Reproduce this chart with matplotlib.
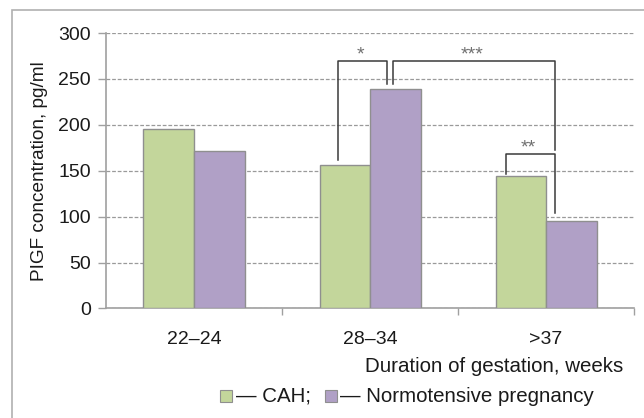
import matplotlib
matplotlib.use("Agg")
import matplotlib.pyplot as plt
from matplotlib.patches import Rectangle

plt.rcParams['font.family'] = ['Liberation Sans', 'DejaVu Sans']

categories = ["22–24", "28–34", ">37"]
cah = [196, 156, 144]
normotensive = [172, 239, 95]
series_labels = ["CAH", "Normotensive pregnancy"]
y_ticks = [0, 50, 100, 150, 200, 250, 300]

green = "#c3d69b"
purple = "#b0a0c6"
edge = "#8f8f8f"
axis_gray = "#a0a0a0"
text_col = "#1a1a1a"
fs = 14
fs_wide = 14.8

fig = plt.figure(figsize=(6.44, 4.18), dpi=100)
ax = fig.add_axes([0.1646, 0.262, 0.82, 0.659])

# outer frame of the figure
fig.patches.append(Rectangle((12 / 644, -0.05), 1.0, (418 - 10) / 418 + 0.05,
                             transform=fig.transFigure, fill=False,
                             edgecolor="#b0b0b0", linewidth=1.2))

x = list(range(len(categories)))
w = 0.287
ax.bar([i - w / 2 for i in x], cah, width=w, color=green, edgecolor=edge, linewidth=1.0, zorder=3)
ax.bar([i + w / 2 for i in x], normotensive, width=w, color=purple, edgecolor=edge, linewidth=1.0, zorder=3)

ax.set_xlim(-0.5, 2.5)
ax.set_ylim(0, 300)
ax.set_yticks(y_ticks)
ax.set_yticklabels([str(t) for t in y_ticks], fontsize=fs, color=text_col)
ax.yaxis.grid(True, linestyle=(0, (3, 1.5)), color="#9a9a9a", linewidth=0.9, zorder=0)
ax.set_axisbelow(True)

# category labels centred, tick marks at group boundaries
ax.set_xticks(x)
ax.set_xticklabels(categories, fontsize=fs, color=text_col)
ax.tick_params(axis='x', length=0, pad=16)
ax.set_xticks([0.5, 1.5, 2.5], minor=True)
ax.tick_params(axis='x', which='minor', length=5, color=axis_gray, width=1)
ax.tick_params(axis='y', length=6, color=axis_gray, width=1, pad=5)

for s in ["top", "right"]:
    ax.spines[s].set_visible(False)
for s in ["left", "bottom"]:
    ax.spines[s].set_color(axis_gray)
    ax.spines[s].set_linewidth(1.2)

ax.set_ylabel("PIGF concentration, pg/ml", fontsize=13.7, color=text_col, labelpad=7)
fig.text(623 / 644, 1 - 367 / 418, "Duration of gestation, weeks", fontsize=fs_wide,
         ha="right", va="center", color=text_col)

# significance brackets
br = dict(color="#3a3a3a", linewidth=1.1, clip_on=False, zorder=5)
star = dict(ha="center", va="center", fontsize=14, color="#707070", clip_on=False)

ax.plot([0.82, 0.82, 1.096, 1.096], [162, 269, 269, 245], **br)
ax.text(0.945, 276, "*", **star)
ax.plot([1.128, 1.128, 2.048, 2.048], [245, 269, 269, 173], **br)
ax.text(1.58, 276, "***", **star)
ax.plot([1.775, 1.775, 2.048, 2.048], [146, 168, 168, 104], **br)
ax.text(1.9, 175, "**", **star)

# legend line under the axis title
ly = 1 - 396 / 418
def swatch(xf, color):
    fig.patches.append(Rectangle((xf, ly - 0.014), 12 / 644, 12 / 418, transform=fig.transFigure,
                                 facecolor=color, edgecolor=edge, linewidth=0.8))
swatch(220 / 644, green)
fig.text(236 / 644, ly, "— " + series_labels[0] + ";", fontsize=fs_wide, va="center", color=text_col)
swatch(325 / 644, purple)
fig.text(340 / 644, ly, "— " + series_labels[1], fontsize=fs_wide, va="center", color=text_col)

fig.savefig("out.png", dpi=100)
